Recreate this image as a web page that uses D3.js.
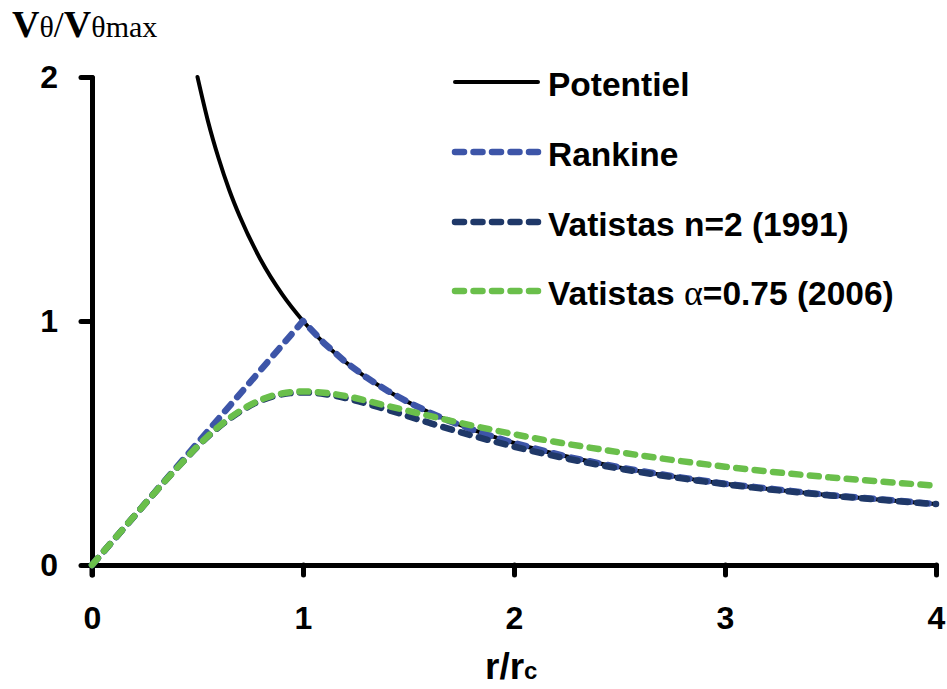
<!DOCTYPE html>
<html>
<head>
<meta charset="utf-8">
<script src="https://cdn.jsdelivr.net/npm/d3@7"></script>
<style>
  html, body { margin: 0; padding: 0; background: #fff; }
  svg { display: block; }
</style>
</head>
<body>
<svg id="chart" width="947" height="689"></svg>
<script>
// ---- data ----
const xTicks = [0, 1, 2, 3, 4];
const yTicks = [0, 1, 2];

const potR = [0.5, 0.55, 0.6, 0.65, 0.7, 0.8, 0.9, 1.0, 1.2, 1.4, 1.6, 1.8, 2.0, 2.5, 3.0, 3.5, 4.0];
const potV = [2, 1.818, 1.667, 1.538, 1.429, 1.25, 1.111, 1.0, 0.833, 0.714, 0.625, 0.556, 0.5, 0.4, 0.333, 0.286, 0.25];

const rankR = [0, 1.0, 1.1, 1.2, 1.3, 1.4, 1.5, 1.6, 1.7, 1.8, 1.9, 2.0, 2.25, 2.5, 2.75, 3.0, 3.5, 4.0];
const rankV = [0, 1.0, 0.909, 0.833, 0.769, 0.714, 0.667, 0.625, 0.588, 0.556, 0.526, 0.5, 0.444, 0.4, 0.364, 0.333, 0.286, 0.25];

const vatR = [0, 0.2, 0.4, 0.6, 0.8, 0.9, 1.0, 1.1, 1.2, 1.4, 1.6, 1.8, 2.0, 2.5, 3.0, 3.5, 4.0];
const vat1991V = [0, 0.1998, 0.395, 0.5645, 0.6738, 0.6994, 0.7071, 0.7008, 0.6845, 0.6363, 0.5822, 0.5308, 0.4851, 0.395, 0.3313, 0.2848, 0.2495];
const vat2006V = [0, 0.2, 0.395, 0.567, 0.677, 0.703, 0.711, 0.706, 0.693, 0.652, 0.611, 0.572, 0.536, 0.462, 0.403, 0.359, 0.325];

const seriesNames = ["Potentiel", "Rankine", "Vatistas n=2 (1991)", "Vatistas α=0.75 (2006)"];

// ---- layout ----
const svg = d3.select("#chart");
const x = d3.scaleLinear().domain([0, 4]).range([92, 936]);
const y = d3.scaleLinear().domain([0, 2]).range([565, 77]);

const series = [
  { name: seriesNames[0], r: potR, v: potV, color: "#000000", dash: null, width: 4, curve: d3.curveMonotoneX },
  { name: seriesNames[1], r: rankR, v: rankV, color: "#3d55a8", dash: "9,9.5", width: 6.5, curve: d3.curveLinear },
  { name: seriesNames[2], r: vatR, v: vat1991V, color: "#1f3868", dash: "9,9.5", width: 6.5, curve: d3.curveMonotoneX },
  { name: seriesNames[3], r: vatR, v: vat2006V, color: "#6abf4b", dash: "9,9.5", width: 6.5, curve: d3.curveMonotoneX }
];

// axes
const axisFont = "'Liberation Sans', Arial, sans-serif";
const yAxis = svg.append("g")
  .attr("transform", `translate(${x(0)},0)`)
  .call(d3.axisLeft(y).tickValues(yTicks).tickFormat(d3.format("d")).tickSize(11).tickSizeOuter(0).tickPadding(23));
const xAxis = svg.append("g")
  .attr("transform", `translate(0,${y(0)})`)
  .call(d3.axisBottom(x).tickValues(xTicks).tickFormat(d3.format("d")).tickSize(10).tickSizeOuter(0).tickPadding(31));

[yAxis, xAxis].forEach(g => {
  g.select(".domain").attr("stroke", "#000").attr("stroke-width", 5).attr("stroke-linecap", "round");
  g.selectAll(".tick line").attr("stroke", "#000").attr("stroke-width", 5).attr("stroke-linecap", "round");
  g.selectAll(".tick text").attr("fill", "#000").style("font-family", axisFont)
    .style("font-weight", "bold").style("font-size", "32px");
});
// extend y-axis line below x axis
yAxis.append("line").attr("x1", 0).attr("x2", 0).attr("y1", y(0)).attr("y2", y(0) + 10)
  .attr("stroke", "#000").attr("stroke-width", 5).attr("stroke-linecap", "round");

// lines
const gLines = svg.append("g");
series.forEach(s => {
  const pts = s.r.map((r, i) => [r, s.v[i]]);
  const line = d3.line().x(d => x(d[0])).y(d => y(d[1])).curve(s.curve);
  gLines.append("path")
    .attr("d", line(pts))
    .attr("fill", "none")
    .attr("stroke", s.color)
    .attr("stroke-width", s.width)
    .attr("stroke-linecap", "round")
    .attr("stroke-linejoin", "round")
    .attr("stroke-dasharray", s.dash);
});

// legend
const legendY = [82, 152, 222, 291];
const legend = svg.append("g");
series.forEach((s, i) => {
  legend.append("line")
    .attr("x1", 455).attr("x2", 538)
    .attr("y1", legendY[i]).attr("y2", legendY[i])
    .attr("stroke", s.color)
    .attr("stroke-width", s.dash ? 6.5 : 4)
    .attr("stroke-linecap", "round")
    .attr("stroke-dasharray", s.dash);
  const t = legend.append("text")
    .attr("x", 548).attr("y", legendY[i] + 14)
    .attr("fill", "#000")
    .style("font-family", axisFont)
    .style("font-weight", "bold")
    .style("font-size", "33.5px");
  if (i === 3) {
    t.append("tspan").text("Vatistas ");
    t.append("tspan").text("α").style("font-family", "'Liberation Serif', 'Times New Roman', serif").style("font-weight", "normal").style("font-size", "36px");
    t.append("tspan").text("=0.75 (2006)");
  } else {
    t.text(s.name);
  }
});

// y-axis title
const serif = "'Liberation Serif', 'Times New Roman', serif";
const yt = svg.append("text").attr("x", 12).attr("y", 37).attr("fill", "#000").style("font-family", serif);
yt.append("tspan").text("V").style("font-weight", "bold").style("font-size", "38px");
yt.append("tspan").text("θ").style("font-size", "30px");
yt.append("tspan").text("/").style("font-size", "36px");
yt.append("tspan").text("V").style("font-weight", "bold").style("font-size", "38px");
yt.append("tspan").text("θmax").style("font-size", "30px");

// x-axis title
const xt = svg.append("text").attr("x", 485).attr("y", 679).attr("fill", "#000")
  .style("font-family", axisFont).style("font-weight", "bold");
xt.append("tspan").text("r/r").style("font-size", "37px");
xt.append("tspan").text("c").style("font-size", "24px");
</script>
</body>
</html>
